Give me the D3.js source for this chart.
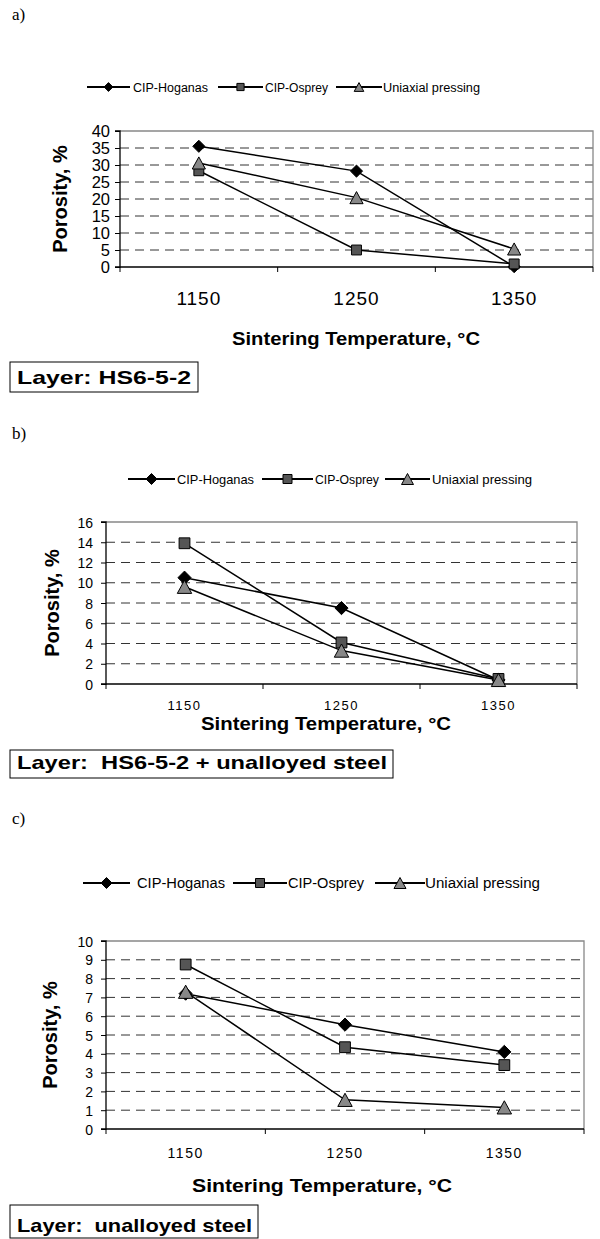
<!DOCTYPE html>
<html><head><meta charset="utf-8">
<script src="https://cdn.jsdelivr.net/npm/d3@7"></script>
<style>body{margin:0;background:#fff}svg{display:block}text{font-family:"Liberation Sans",Arial,sans-serif}</style>
</head><body>
<script>
const categories = ["1150","1250","1350"];
const seriesNames = ["CIP-Hoganas","CIP-Osprey","Uniaxial pressing"];
const ticksA = [0,5,10,15,20,25,30,35,40];
const ticksB = [0,2,4,6,8,10,12,14,16];
const ticksC = [0,1,2,3,4,5,6,7,8,9,10];
const hoganasA = [35.5, 28.2, 0.1];
const ospreyA = [28.3, 5.0, 0.9];
const uniaxialA = [30.6, 20.4, 5.3];
const hoganasB = [10.5, 7.5, 0.4];
const ospreyB = [13.9, 4.1, 0.5];
const uniaxialB = [9.6, 3.3, 0.4];
const hoganasC = [7.2, 5.55, 4.1];
const ospreyC = [8.75, 4.35, 3.4];
const uniaxialC = [7.3, 1.55, 1.15];
const layerA = "Layer: HS6-5-2";
const layerB = "Layer:  HS6-5-2 + unalloyed steel";
const layerC = "Layer:  unalloyed steel";

const W=600,H=1239;
const svg=d3.select("body").append("svg").attr("width",W).attr("height",H);

const fills=["#000","#555","#888"];

function markerPath(i,size){
  if(i===0){const r=size*0.55;return `M0,${-r}L${r},0L0,${r}L${-r},0Z`;}
  if(i===1){const h=size*0.45;return `M${-h},${-h}H${h}V${h}H${-h}Z`;}
  const w=size*0.6,h=size*0.55;return `M0,${-h}L${w},${h}L${-w},${h}Z`;
}
function marker(g,i,x,y,size){
  g.append("path").attr("d",markerPath(i,size))
   .attr("transform",`translate(${x},${y})`)
   .attr("fill",fills[i]).attr("stroke","#000").attr("stroke-width",1);
}

function panel(cfg){
  const g=svg.append("g");
  g.append("text").attr("x",12).attr("y",cfg.labelY).style("font-family","'Liberation Serif',serif").attr("font-size",17).text(cfg.label);
  cfg.legend.forEach((L,i)=>{
    g.append("line").attr("x1",L[0]).attr("x2",L[1]).attr("y1",cfg.legY).attr("y2",cfg.legY).attr("stroke","#000").attr("stroke-width",1.8);
    marker(g,i,(L[0]+L[1])/2,cfg.legY,cfg.legMark);
    g.append("text").attr("x",L[2]).attr("y",cfg.legY+cfg.legFont*0.36).attr("font-size",cfg.legFont).attr("textLength",L[3]).attr("lengthAdjust","spacingAndGlyphs").text(seriesNames[i]);
  });
  const x=d3.scaleBand().domain(categories).range([cfg.x0,cfg.x1]);
  const y=d3.scaleLinear().domain([0,cfg.ticks[cfg.ticks.length-1]]).range([cfg.y1,cfg.y0]);
  g.selectAll(".grid").data(cfg.ticks.slice(1,-1)).enter().append("line")
   .attr("x1",cfg.x0).attr("x2",cfg.x1).attr("y1",d=>y(d)).attr("y2",d=>y(d))
   .attr("stroke","#333").attr("stroke-width",1).attr("stroke-dasharray","9,6");
  g.append("path").attr("d",`M${cfg.x0},${cfg.y0}H${cfg.x1}V${cfg.y1}`).attr("fill","none").attr("stroke","#888").attr("stroke-width",1.3);
  const ya=g.append("g").attr("transform",`translate(${cfg.x0},0)`)
   .call(d3.axisLeft(y).tickValues(cfg.ticks).tickSize(5).tickPadding(cfg.yPad).tickFormat(d3.format("d")));
  ya.select(".domain").attr("stroke","#000").attr("stroke-width",1.3).attr("d",`M-5,${cfg.y0}H0V${cfg.y1}H-5`);
  ya.selectAll("text").attr("font-size",cfg.yFont).style("font-family","'Liberation Sans',Arial,sans-serif").attr("fill","#000").attr("dy","0.36em");
  ya.selectAll("line").attr("stroke","#000");
  const bounds=categories.map(c=>x(c)).concat([cfg.x1]);
  g.append("line").attr("x1",cfg.x0).attr("x2",cfg.x1).attr("y1",cfg.y1).attr("y2",cfg.y1).attr("stroke","#000").attr("stroke-width",1.3);
  g.selectAll(".xt").data(bounds).enter().append("line").attr("x1",d=>d).attr("x2",d=>d).attr("y1",cfg.y1).attr("y2",cfg.y1+5).attr("stroke","#000");
  g.selectAll(".xl").data(categories).enter().append("text")
   .attr("x",d=>x(d)+x.bandwidth()/2).attr("y",cfg.xLabY).attr("text-anchor","middle").attr("font-size",cfg.xFont).attr("letter-spacing",cfg.xSpace).text(d=>d);
  g.append("text").attr("x",cfg.titleX).attr("y",cfg.titleY).attr("text-anchor","middle").attr("font-weight","bold").attr("font-size",cfg.titleFont).attr("textLength",cfg.titleLen).attr("lengthAdjust","spacingAndGlyphs").text("Sintering Temperature, °C");
  g.append("text").attr("transform",`translate(${cfg.yTitleX},${(cfg.y0+cfg.y1)/2}) rotate(-90)`).attr("text-anchor","middle").attr("font-weight","bold").attr("font-size",cfg.yTitleFont).attr("dy","0.35em").text("Porosity, %");
  cfg.series.forEach((vals,i)=>{
    const pts=vals.map((v,j)=>[x(categories[j])+x.bandwidth()/2,y(v)]);
    g.append("path").attr("d",d3.line()(pts)).attr("fill","none").attr("stroke","#000").attr("stroke-width",1.5);
  });
  cfg.series.forEach((vals,i)=>{
    vals.forEach((v,j)=>marker(g,i,x(categories[j])+x.bandwidth()/2,y(v),cfg.mark));
  });
  g.append("rect").attr("x",cfg.box[0]).attr("y",cfg.box[1]).attr("width",cfg.box[2]).attr("height",cfg.box[3]).attr("fill","#fff").attr("stroke","#000").attr("stroke-width",1);
  g.append("text").attr("x",cfg.box[0]+7).attr("y",cfg.boxTextY).attr("font-weight","bold").attr("font-size",cfg.boxFont).style("white-space","pre").attr("textLength",cfg.boxLen).attr("lengthAdjust","spacingAndGlyphs").text(cfg.layer);
}

panel({label:"a)",labelY:20,legY:87,legFont:12.5,legMark:8,
  legend:[[87,130,133,75],[218,263,265,63],[336,382,383,97]],
  x0:120,x1:593,y0:131,y1:267,ticks:ticksA,yFont:16.5,yPad:5,xFont:19,xSpace:1,xLabY:305,
  titleX:356,titleY:345,titleFont:19,titleLen:248,yTitleX:60,yTitleFont:20,
  series:[hoganasA,ospreyA,uniaxialA],mark:11,
  box:[10,362,188,30],boxTextY:384,boxFont:19,boxLen:174,layer:layerA});

panel({label:"b)",labelY:439,legY:479,legFont:13,legMark:10,
  legend:[[128,175,177,77],[262,313,315,64],[385,430,432,100]],
  x0:106,x1:577,y0:522,y1:684,ticks:ticksB,yFont:14,yPad:8,xFont:13,xSpace:1.5,xLabY:710,
  titleX:326,titleY:730,titleFont:19,titleLen:250,yTitleX:52,yTitleFont:20,
  series:[hoganasB,ospreyB,uniaxialB],mark:12,
  box:[10,750,383,28],boxTextY:769,boxFont:19,boxLen:370,layer:layerB});

panel({label:"c)",labelY:824,legY:883,legFont:14,legMark:10,
  legend:[[83,130,137,88],[233,287,288,76],[375,425,425,115]],
  x0:106,x1:584,y0:941,y1:1129,ticks:ticksC,yFont:14,yPad:8,xFont:14,xSpace:1.5,xLabY:1158,
  titleX:322,titleY:1192,titleFont:19,titleLen:260,yTitleX:50,yTitleFont:20,
  series:[hoganasC,ospreyC,uniaxialC],mark:12,
  box:[10,1205,248,33],boxTextY:1232,boxFont:19,boxLen:235,layer:layerC});
</script>
</body></html>
